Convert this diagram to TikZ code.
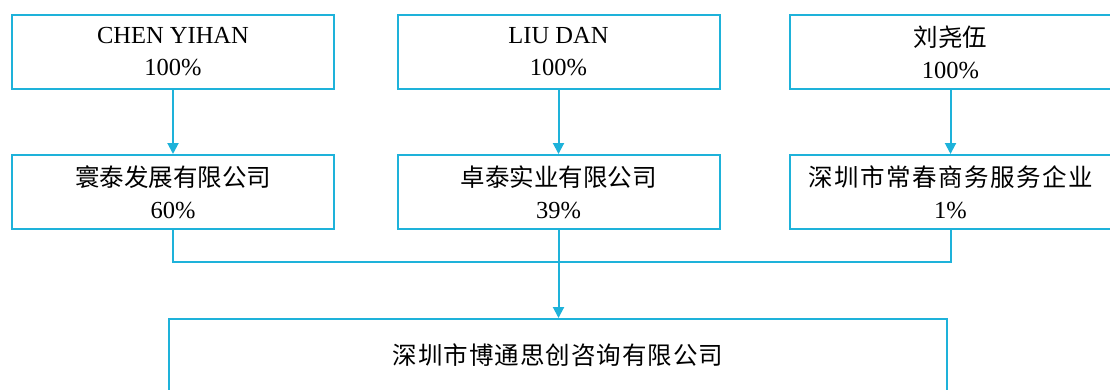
\documentclass[tikz,border=0pt]{standalone}
\usepackage{fontspec}
\setmainfont{Liberation Serif}
\newfontfamily\cjk{Noto Sans CJK SC}
\newfontfamily\cjkwide{Noto Sans CJK SC}[LetterSpace=6]
\newfontfamily\cjkbot{Noto Sans CJK SC}[LetterSpace=4]
\usetikzlibrary{arrows.meta}
\definecolor{lineblue}{RGB}{30,178,218}
\tikzset{
  box/.style={draw=lineblue, line width=2pt, minimum width=322pt, minimum height=74pt,
    align=center, inner sep=0pt, font=\fontsize{24.5}{32}\selectfont},
  toptext/.style={text depth=0pt, yshift=0pt},
  link/.style={draw=lineblue, line width=2pt},
  arr/.style={link, -{Triangle[width=11pt,length=11pt]}}
}
\begin{document}
\begin{tikzpicture}[x=1pt,y=-1pt]
\clip (0,0) rectangle (1110,389);
\useasboundingbox (0,0) rectangle (1110,389);
\node[box] (t1) at (173,52) {CHEN YIHAN\\100\%};
\node[box] (t2) at (558.5,52) {LIU DAN\\100\%};
\node[box] (t3) at (950.5,52) {{\cjk 刘尧伍}\\100\%};
\node[box] (m1) at (173,192) {{\cjk 寰泰发展有限公司}\\60\%};
\node[box] (m2) at (558.5,192) {{\cjk 卓泰实业有限公司}\\39\%};
\node[box] (m3) at (950.5,192) {{\cjkwide 深圳市常春商务服务企业}\\1\%};
\node[box, minimum width=778pt, minimum height=72pt] (b) at (558,355) {{\cjkbot 深圳市博通思创咨询有限公司}};
\coordinate (j) at (558.5,262);
\draw[arr] (t1) -- (m1);
\draw[arr] (t2) -- (m2);
\draw[arr] (t3) -- (m3);
\draw[link] (m1.south) |- (j) -| (m3.south);
\draw[link] (m2.south) -- (j);
\draw[arr] (j) -- (j |- b.north);
\end{tikzpicture}
\end{document}
